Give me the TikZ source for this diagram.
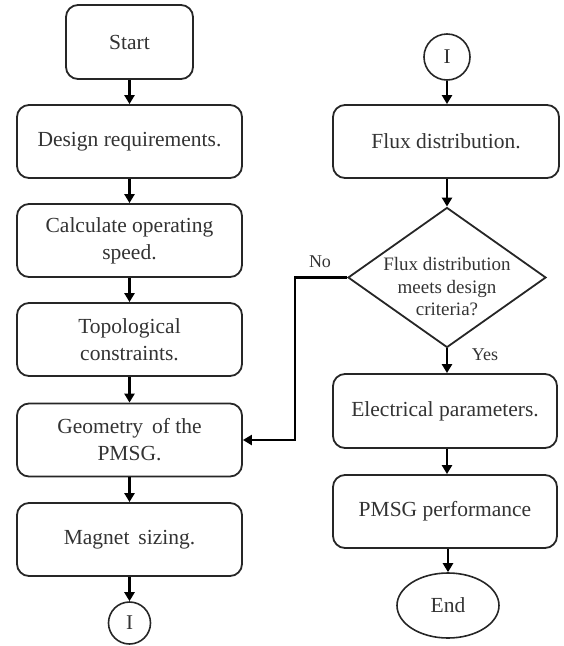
\documentclass[tikz,border=0pt]{standalone}
\usepackage{fontspec}
\setmainfont{Liberation Serif}
\usetikzlibrary{shapes.geometric,arrows.meta}
\tikzset{
  box/.style={draw=black!85, rounded corners=12pt, line width=1.8pt, minimum width=225pt, minimum height=73pt, align=center, inner sep=2pt, text=black!80, font=\fontsize{21.5}{27}\selectfont},
  conn/.style={draw=black!85, circle, line width=1.6pt, minimum size=43pt, inner sep=0pt, text=black!80, font=\fontsize{21}{25}\selectfont},
  arr/.style={line width=2.6pt, draw=black, -{Triangle[length=9pt,width=10pt]}},
  lbl/.style={text=black!80, font=\fontsize{18}{21}\selectfont}
}
\begin{document}
\begin{tikzpicture}[x=1pt,y=-1pt]
\useasboundingbox (0,0) rectangle (563,646);
% left column
\node[box, minimum width=127pt, minimum height=74pt] (start) at (129.5,42) {Start};
\node[box] (design) at (129.5,141.5) {Design requirements.};
\node[box] (calc) at (129.5,240.5) {Calculate operating\\speed.};
\node[box] (topo) at (129.5,339.5) {Topological\\constraints.};
\node[box] (geom) at (129.5,440) {Geometry\, of the\\PMSG.};
\node[box] (mag) at (129.5,539.5) {Magnet\, sizing.};
\node[conn, minimum size=42pt] (il) at (129.5,623) {I};
% right column
\node[conn, minimum size=46pt] (ir) at (447,57) {I};
\node[box, minimum width=226pt] (flux) at (446,141.5) {Flux distribution.};
\node[diamond, draw=black!85, line width=1.8pt, minimum width=198pt, minimum height=140pt, inner sep=0pt] (dec) at (447,277.5) {};
\node[align=center, text=black!80, font=\fontsize{19}{22.5}\selectfont] (dectext) at (447,287) {Flux distribution\\meets design\\criteria?};
\node[box, minimum width=224pt, minimum height=74pt] (elec) at (445,411) {Electrical parameters.};
\node[box, minimum width=224pt] (perf) at (445,511.5) {PMSG performance};
\node[ellipse, draw=black!85, line width=1.6pt, minimum width=102pt, minimum height=65pt, inner sep=0pt, text=black!80, font=\fontsize{21.5}{25}\selectfont] (end) at (448,605.5) {End};
% arrows left
\draw[arr] (start) -- (design);
\draw[arr] (design) -- (calc);
\draw[arr] (calc) -- (topo);
\draw[arr] (topo) -- (geom);
\draw[arr] (geom) -- (mag);
\draw[arr] (mag) -- (il);
% arrows right
\draw[arr] (ir) -- (ir |- flux.north);
\draw[arr] (flux.south -| dec.north) -- (dec.north);
\draw[arr] (dec.south) -- (elec.north -| dec.south);
\draw[arr] (elec.south -| dec.south) -- (perf.north -| dec.south);
\draw[arr] (perf.south -| end.north) -- (end.north);
% No branch
\coordinate (nocorner) at (295,277.5);
\draw[arr] (dec.west) -- (nocorner) |- (geom.east);
\node[lbl] (no) at (320,262) {No};
\node[lbl] (yes) at (485,355) {Yes};
\end{tikzpicture}
\end{document}
